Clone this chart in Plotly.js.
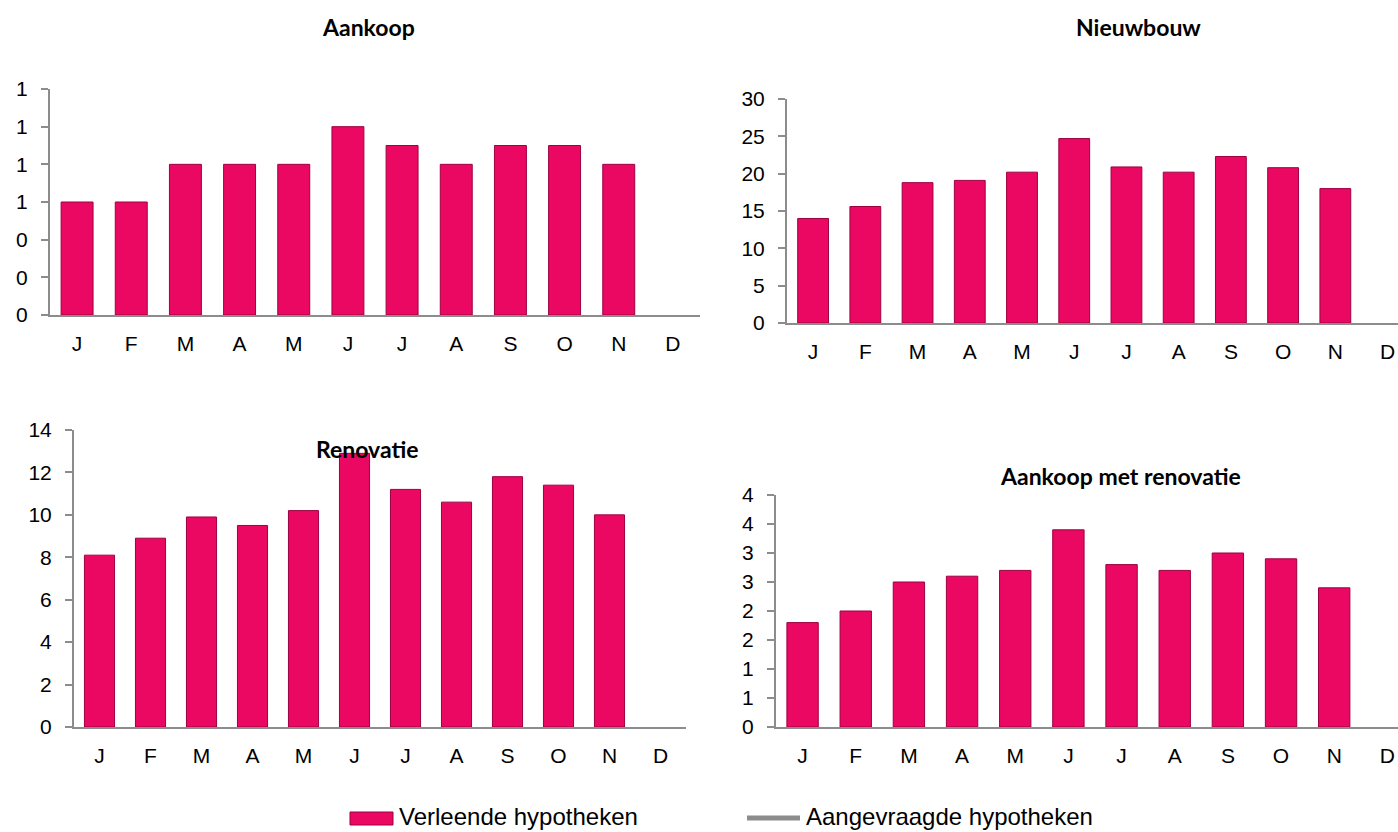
<!DOCTYPE html>
<html>
<head>
<meta charset="utf-8">
<script src="https://cdn.plot.ly/plotly-3.0.1.min.js"></script>
<style>html,body{margin:0;padding:0;background:#fff;}#chart{width:1398px;height:832px;}</style>
</head>
<body>
<div id="chart"></div>
<script>
// ---- data ----
const months = ['J','F','M','A','M','J','J','A','S','O','N','D'];
const aankoop = [0.6, 0.6, 0.8, 0.8, 0.8, 1.0, 0.9, 0.8, 0.9, 0.9, 0.8];
const nieuwbouw = [14.0, 15.6, 18.8, 19.1, 20.2, 24.7, 20.9, 20.2, 22.3, 20.8, 18.0];
const renovatie = [8.1, 8.9, 9.9, 9.5, 10.2, 12.9, 11.2, 10.6, 11.8, 11.4, 10.0];
const aankoopRenovatie = [1.8, 2.0, 2.5, 2.6, 2.7, 3.4, 2.8, 2.7, 3.0, 2.9, 2.4];
const panelTitles = ['Aankoop', 'Nieuwbouw', 'Renovatie', 'Aankoop met renovatie'];
const seriesNames = ['Verleende hypotheken', 'Aangevraagde hypotheken'];

// ---- layout helpers ----
const W = 1398, H = 832;
const px = v => v / W;
const py = v => 1 - v / H;
const idx = months.map((m, i) => i);

const barColor = '#EA0862';
const barLine = '#9E0040';
const axisColor = '#8C8C8C';
const tickFont = {family: 'Liberation Sans, Arial, sans-serif', size: 21, color: '#000'};

const panels = [
  {vals: aankoop,          x: [50, 700],   y: [315, 89],  range: [0, 1.2], dtick: 0.2, xr: [-0.5, 11.5]},
  {vals: nieuwbouw,        x: [787, 1398], y: [323, 99],  range: [0, 30],  dtick: 5,   xr: [-0.5, 11.2]},
  {vals: renovatie,        x: [74, 686],   y: [727, 430], range: [0, 14],  dtick: 2,   xr: [-0.5, 11.5]},
  {vals: aankoopRenovatie, x: [776, 1398], y: [727, 495], range: [0, 4],   dtick: 0.5, xr: [-0.5, 11.2]}
];

const data = [];
const layout = {
  width: W, height: H,
  margin: {l: 0, r: 0, t: 0, b: 0},
  paper_bgcolor: '#fff', plot_bgcolor: 'rgba(0,0,0,0)',
  showlegend: false,
  bargap: 0.41,
  shapes: [], annotations: []
};

panels.forEach((p, k) => {
  const n = k + 1;
  const sfx = n === 1 ? '' : String(n);
  const xa = 'x' + sfx, ya = 'y' + sfx;
  data.push({
    type: 'bar', x: idx.slice(0, p.vals.length), y: p.vals,
    xaxis: xa, yaxis: ya, name: seriesNames[0],
    marker: {color: barColor, line: {color: barLine, width: 1}},
    hoverinfo: 'y'
  });
  layout['xaxis' + sfx] = {
    domain: [px(p.x[0]), px(p.x[1])], anchor: ya,
    range: p.xr, tickvals: idx, ticktext: months,
    showline: true, linecolor: axisColor, linewidth: 2,
    ticks: '', showgrid: false, zeroline: false,
    tickfont: tickFont, ticklabelstandoff: 9, ticklabeloverflow: 'allow',
    fixedrange: true
  };
  layout['yaxis' + sfx] = {
    domain: [py(p.y[0]), py(p.y[1])], anchor: xa,
    range: p.range, dtick: p.dtick, tick0: 0, tickformat: '.0f',
    showline: true, linecolor: axisColor, linewidth: 2,
    ticks: 'outside', ticklen: 7, tickcolor: axisColor, tickwidth: 2,
    showgrid: false, zeroline: false,
    tickfont: tickFont, ticklabelstandoff: 9, fixedrange: true
  };
});

// panel titles
const titlePos = [[368, 27], [1138, 27], [367, 449], [1120, 476]];
panelTitles.forEach((t, i) => {
  layout.annotations.push({
    text: '<b>' + t + '</b>', xref: 'paper', yref: 'paper',
    x: px(titlePos[i][0]), y: py(titlePos[i][1]), xanchor: 'center', yanchor: 'middle',
    showarrow: false, font: {family: 'Lato, Carlito, sans-serif', size: 23, color: '#000'}
  });
});

// manual legend
layout.shapes.push({type: 'rect', xref: 'paper', yref: 'paper',
  x0: px(350), x1: px(393), y0: py(825), y1: py(812),
  fillcolor: barColor, line: {color: barLine, width: 1}});
layout.shapes.push({type: 'line', xref: 'paper', yref: 'paper',
  x0: px(747), x1: px(800), y0: py(818), y1: py(818),
  line: {color: axisColor, width: 5}});
layout.annotations.push({text: seriesNames[0], xref: 'paper', yref: 'paper',
  x: px(397), y: py(816), xanchor: 'left', yanchor: 'middle', showarrow: false,
  font: {family: 'Liberation Sans, Arial, sans-serif', size: 24, color: '#000'}});
layout.annotations.push({text: seriesNames[1], xref: 'paper', yref: 'paper',
  x: px(804), y: py(816), xanchor: 'left', yanchor: 'middle', showarrow: false,
  font: {family: 'Liberation Sans, Arial, sans-serif', size: 24, color: '#000'}});

Plotly.newPlot('chart', data, layout, {staticPlot: true});
</script>
</body>
</html>
